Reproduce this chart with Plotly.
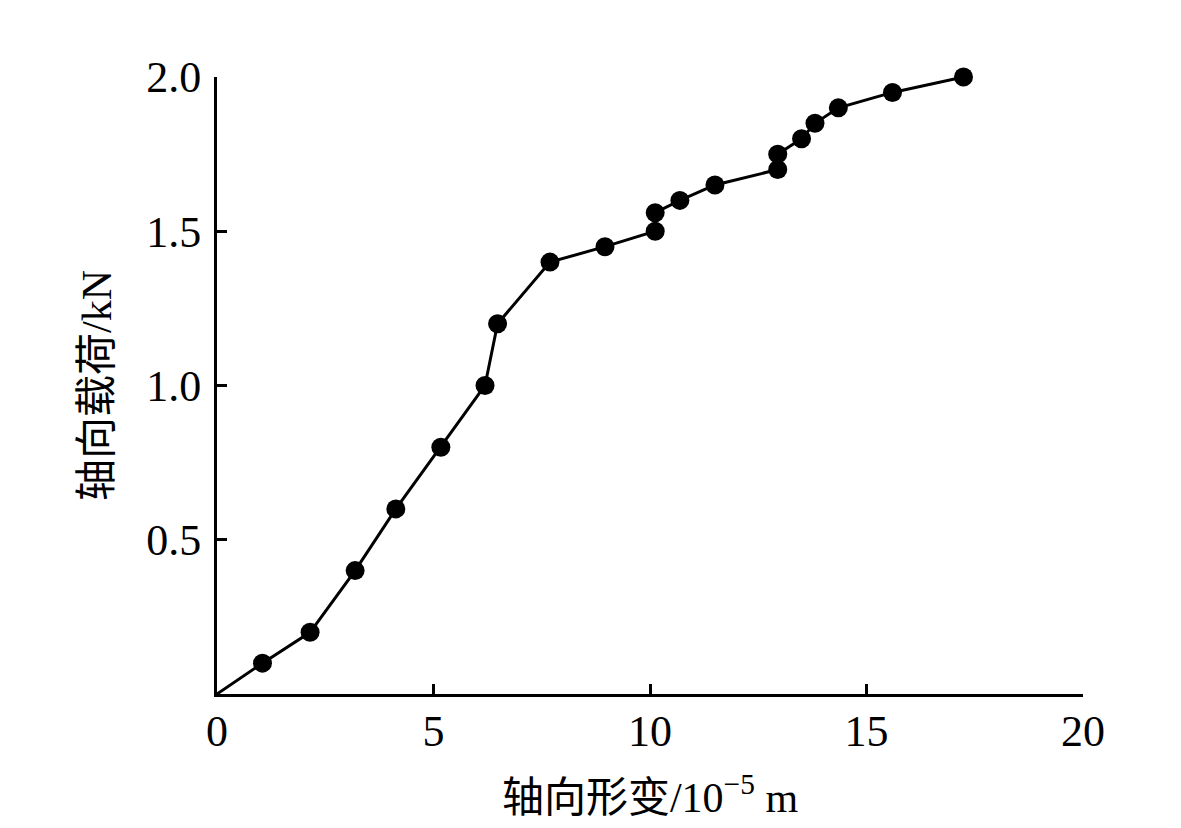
import plotly.graph_objects as go

# axial deformation (10^-5 m) and axial load (kN)
deform = [0, 1.05, 2.15, 3.19, 4.13, 5.17, 6.19, 6.48, 7.69, 8.96,
          10.12, 10.12, 10.69, 11.50, 12.95, 12.95, 13.50, 13.81, 14.35, 15.60, 17.24]
load = [0, 0.1, 0.2, 0.4, 0.6, 0.8, 1.0, 1.2, 1.4, 1.45,
        1.5, 1.56, 1.6, 1.65, 1.7, 1.75, 1.8, 1.85, 1.9, 1.95, 2.0]

x_ticks = [0, 5, 10, 15, 20]
y_ticks = [0.5, 1.0, 1.5, 2.0]
y_ticktext = ["0.5", "1.0", "1.5", "2.0"]

FONT = "Liberation Serif, Times New Roman, Noto Sans CJK SC, serif"

fig = go.Figure()

# line through origin, markers only on measured points
fig.add_trace(go.Scatter(
    x=deform, y=load,
    mode="lines",
    line=dict(color="black", width=3),
    showlegend=False,
))
fig.add_trace(go.Scatter(
    x=deform[1:], y=load[1:],
    mode="markers",
    marker=dict(color="black", size=19),
    cliponaxis=False,
    showlegend=False,
))

fig.update_layout(
    width=1173, height=820,
    margin=dict(l=209, r=98, t=69, b=134),
    plot_bgcolor="white",
    paper_bgcolor="white",
    font=dict(family=FONT, size=44, color="black"),
    xaxis=dict(
        range=[0, 20],
        tickvals=x_ticks,
        ticks="inside", ticklen=10, tickwidth=3, tickcolor="black",
        showline=True, linecolor="black", linewidth=3,
        showgrid=False, zeroline=False,
        tickfont=dict(size=44),
        ticklabelstandoff=-4,
        title=dict(text="轴向形变/10<sup>−5</sup> m", font=dict(size=42), standoff=28),
    ),
    yaxis=dict(
        range=[0, 2],
        tickvals=y_ticks, ticktext=y_ticktext,
        ticks="inside", ticklen=10, tickwidth=3, tickcolor="black",
        showline=True, linecolor="black", linewidth=3,
        showgrid=False, zeroline=False,
        tickfont=dict(size=44),
        ticklabelstandoff=4,
        title=dict(text="轴向载荷/kN", font=dict(size=42), standoff=22),
    ),
)

fig.write_html("out.html")
